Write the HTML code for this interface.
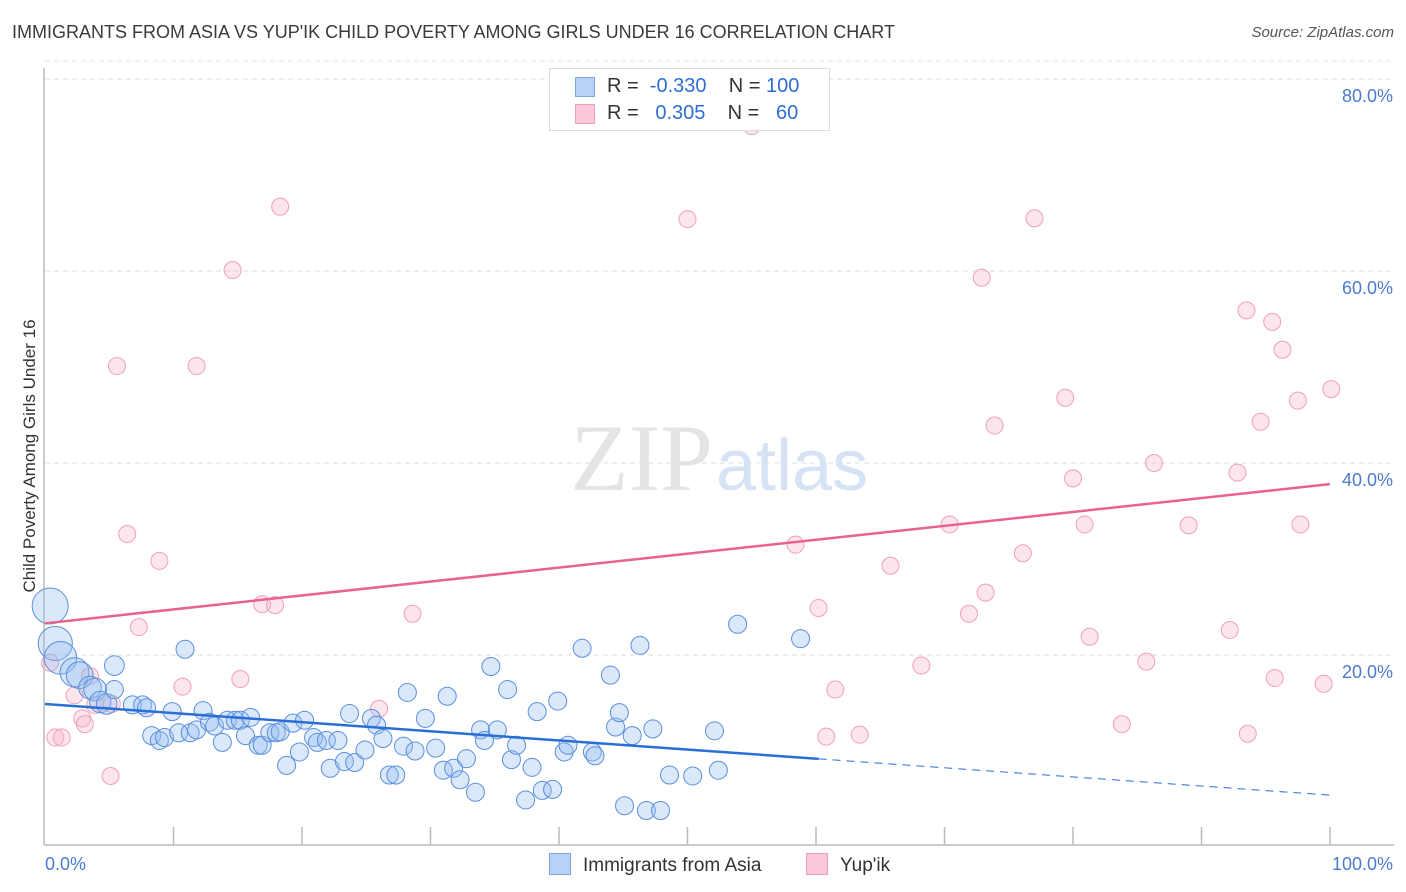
<!DOCTYPE html>
<html><head><meta charset="utf-8"><style>
body{margin:0;background:#fff;font-family:"Liberation Sans",sans-serif;}
#wrap{position:relative;width:1406px;height:892px;overflow:hidden;}
.t{position:absolute;white-space:nowrap;}
</style></head><body>
<div id="wrap">
<div class="t" style="left:12px;top:22px;font-size:18px;color:#3a3a3a;">IMMIGRANTS FROM ASIA VS YUP'IK CHILD POVERTY AMONG GIRLS UNDER 16 CORRELATION CHART</div>
<div class="t" style="right:12px;top:24px;font-size:15px;color:#555;font-style:italic;">Source: ZipAtlas.com</div>
<div class="t" style="left:-110px;top:446px;width:280px;text-align:center;font-size:17px;color:#333;transform:rotate(-90deg);">Child Poverty Among Girls Under 16</div>
<svg id="svg" width="1406" height="892" style="position:absolute;left:0;top:0"></svg>
</div>
<script>
const yTicks=[20,40,60,80];
const yTickLabels=["20.0%","40.0%","60.0%","80.0%"];
const xTickLabels=["0.0%","100.0%"];
const blueX=[0.4,0.8,1.2,2.3,2.7,3.5,3.9,4.3,4.8,5.4,5.4,6.8,7.6,7.9,8.3,8.9,9.3,9.9,10.4,10.9,11.3,11.8,12.3,12.8,13.2,13.8,14.2,14.8,15.2,15.6,16.0,16.6,16.9,17.5,18.0,18.3,18.8,19.3,19.8,20.2,20.9,21.2,21.9,22.2,22.8,23.3,23.7,24.1,24.9,25.4,25.8,26.3,26.8,27.3,27.9,28.2,28.8,29.6,30.4,31.0,31.3,31.8,32.3,32.8,33.5,33.9,34.2,34.7,35.2,36.0,36.3,36.7,37.4,37.9,38.3,38.7,39.5,39.9,40.4,40.7,41.8,42.6,42.8,44.0,44.4,44.7,45.1,45.7,46.3,46.8,47.3,47.9,48.6,50.4,52.1,52.4,53.9,58.8];
const blueY=[25.1,21.2,19.7,18.2,17.9,16.6,16.4,15.1,14.9,18.9,16.4,14.8,14.8,14.5,11.6,11.1,11.4,14.1,11.9,20.6,11.9,12.2,14.2,13.0,12.6,10.9,13.2,13.2,13.2,11.6,13.5,10.6,10.6,11.9,11.9,12.0,8.5,12.9,9.9,13.2,11.4,10.9,11.1,8.2,11.1,8.9,13.9,8.8,10.1,13.4,12.7,11.3,7.5,7.5,10.5,16.1,10.0,13.4,10.3,8.0,15.7,8.2,7.0,9.2,5.7,12.2,11.1,18.8,12.2,16.4,9.1,10.6,4.9,8.3,14.1,5.9,6.0,15.2,9.9,10.6,20.7,9.9,9.5,17.9,12.5,14.0,4.3,11.6,21.0,3.8,12.3,3.8,7.5,7.4,12.1,8.0,23.2,21.7];
const blueWeight=[4,3.6,3.3,2.6,2.2,1.6,1.6,1.4,1.3,1.2];
const pinkX=[0.4,0.8,1.3,2.3,2.9,3.1,3.5,3.9,5.1,5.2,5.6,6.4,7.3,8.9,10.7,11.8,14.6,15.2,16.9,17.9,18.3,26.0,28.6,50.0,55.0,58.4,60.2,60.8,61.5,63.4,65.8,68.2,70.4,71.9,72.9,73.2,73.9,76.1,77.0,79.4,80.0,80.9,81.3,83.8,85.7,86.3,89.0,92.2,92.8,93.5,93.6,94.6,95.5,95.7,96.3,97.5,97.7,99.5,100.1];
const pinkY=[19.2,11.4,11.4,15.8,13.4,12.8,17.8,14.8,7.4,14.9,50.1,32.6,22.9,29.8,16.7,50.1,60.1,17.5,25.3,25.2,66.7,14.4,24.3,65.4,75.1,31.5,24.9,11.5,16.4,11.7,29.3,18.9,33.6,24.3,59.3,26.5,43.9,30.6,65.5,46.8,38.4,33.6,21.9,12.8,19.3,40.0,33.5,22.6,39.0,55.9,11.8,44.3,54.7,17.6,51.8,46.5,33.6,17.0,47.7];
const blueTrend=[14.9,5.4]; const blueSolidEnd=60.2;
const pinkTrend=[23.3,37.8];

const NS="http://www.w3.org/2000/svg",svg=document.getElementById('svg');
const X0=45,X1=1330,Y0=847,PY=9.6;
const sx=v=>X0+(X1-X0)*v/100, sy=v=>Y0-v*PY;
function mk(t,a,p){const e=document.createElementNS(NS,t);for(const k in a)e.setAttribute(k,a[k]);(p||svg).appendChild(e);return e;}
// gridlines
yTicks.forEach((v,i)=>{
 const g=mk('line',{x1:45,x2:1394,y1:sy(v),y2:sy(v),stroke:'#ddd','stroke-dasharray':'5,4'});
 
 
 const t=mk('text',{x:1393,y:sy(v)+23,'text-anchor':'end','font-size':18,fill:'#4a7bd0','font-family':'Liberation Sans'});
 t.textContent=yTickLabels[i];
 
 
});
mk('line',{x1:45,x2:1394,y1:sy(80)-18,y2:sy(80)-18,stroke:'#e6e6e6','stroke-dasharray':'5,4'});
// axes
const ax=mk('line',{x1:44,x2:44,y1:68,y2:845,stroke:'#bbb','stroke-width':1.5});


const bx=mk('line',{x1:44,x2:1394,y1:845,y2:845,stroke:'#bbb','stroke-width':1.5});


for(let i=1;i<=10;i++){mk('line',{x1:sx(i*10),x2:sx(i*10),y1:827,y2:845,stroke:'#bbb','stroke-width':1.5});}
[[0,'start',45],[100,'end',1393]].forEach((d,i)=>{const t=mk('text',{x:d[2],y:870,'text-anchor':d[1],'font-size':18,fill:'#4a7bd0','font-family':'Liberation Sans'});t.textContent=xTickLabels[i];
 
 });
// watermark
const wm=mk('text',{x:713,y:490,'text-anchor':'end','font-size':95,fill:'#e4e4e4','font-family':'Liberation Serif'});wm.textContent='ZIP';


const wm2=mk('text',{x:716,y:490,'font-size':72,fill:'#d6e3f5','font-family':'Liberation Sans'});wm2.textContent='atlas';


// points
pinkX.forEach((x,i)=>{const c=mk('circle',{cx:sx(x),cy:sy(pinkY[i]),r:8.5,fill:'rgba(248,180,200,0.35)',stroke:'#f0a0b8','stroke-width':1});
 
 });
blueX.forEach((x,i)=>{const w=blueWeight[i]||1;const c=mk('circle',{cx:sx(x),cy:sy(blueY[i]),r:9*Math.sqrt(w),fill:'rgba(150,190,240,0.35)',stroke:'#5b8fdc','stroke-width':1});
 
 });
// trends
const bf=v=>blueTrend[0]+(blueTrend[1]-blueTrend[0])*v/100;
const l1=mk('line',{x1:sx(0),y1:sy(bf(0)),x2:sx(blueSolidEnd),y2:sy(bf(blueSolidEnd)),stroke:'#2a6fd6','stroke-width':2.5});


const l2=mk('line',{x1:sx(blueSolidEnd),y1:sy(bf(blueSolidEnd)),x2:sx(100),y2:sy(bf(100)),stroke:'#2a6fd6','stroke-width':1,'stroke-dasharray':'8,6'});


const l3=mk('line',{x1:sx(0),y1:sy(pinkTrend[0]),x2:sx(100),y2:sy(pinkTrend[1]),stroke:'#e8648e','stroke-width':2.5});


</script>
<div class="t" style="left:549px;top:68px;width:279px;height:61px;border:1px solid #ddd;background:#fff;font-size:20px;color:#333;">
 <div style="position:absolute;left:25px;top:8px;width:18px;height:18px;background:#b8d2f5;border:1px solid #7aa6e6;"></div>
 <div style="position:absolute;left:57px;top:6px;">R = <span style="color:#2e6fd0">&nbsp;-0.330</span>&nbsp;&nbsp;&nbsp; N = <span style="color:#2e6fd0">100</span></div>
 <div style="position:absolute;left:25px;top:35px;width:18px;height:18px;background:#fcc8d8;border:1px solid #f0a0b8;"></div>
 <div style="position:absolute;left:57px;top:33px;">R = <span style="color:#2e6fd0">&nbsp;&nbsp;0.305</span>&nbsp;&nbsp;&nbsp; N = <span style="color:#2e6fd0">&nbsp;&nbsp;60</span></div>
</div>
<div class="t" style="left:549px;top:853px;font-size:19px;color:#333;"><span style="display:inline-block;width:20px;height:20px;background:#b8d2f5;border:1px solid #7aa6e6;vertical-align:-4px;margin-right:12px;"></span>Immigrants from Asia</div>
<div class="t" style="left:806px;top:853px;font-size:19px;color:#333;"><span style="display:inline-block;width:20px;height:20px;background:#fcc8d8;border:1px solid #f0a0b8;vertical-align:-4px;margin-right:12px;"></span>Yup'ik</div>
</body></html>
